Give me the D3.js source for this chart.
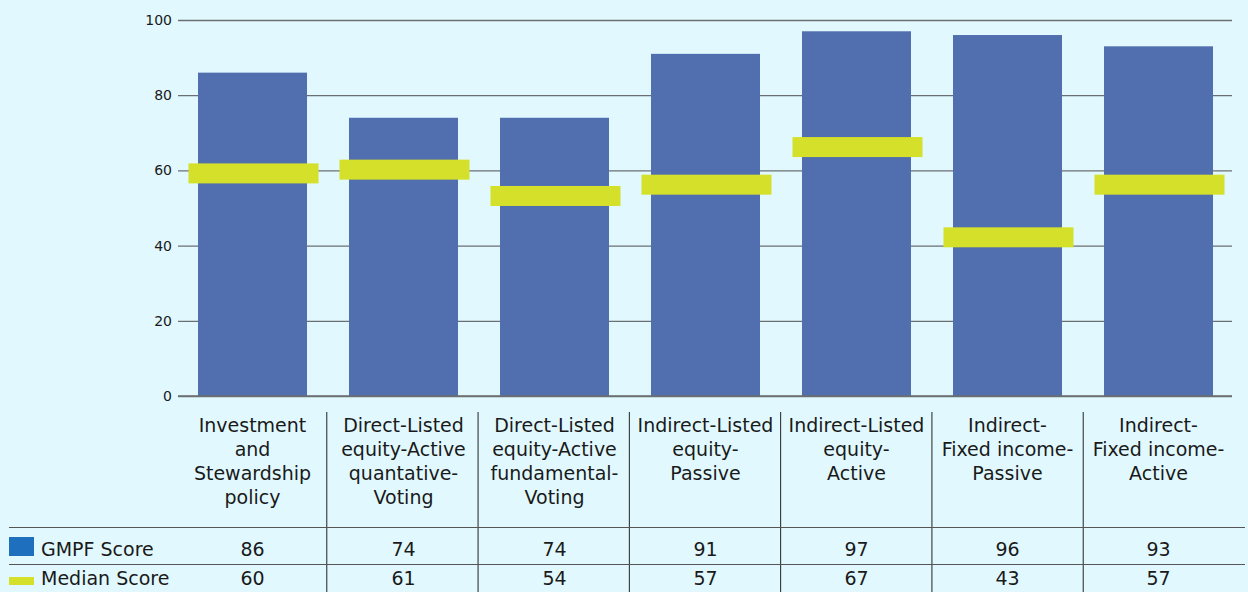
<!DOCTYPE html>
<html>
<head>
<meta charset="utf-8">
<script src="https://cdn.jsdelivr.net/npm/d3@7"></script>
<style>
  body { margin: 0; background: #e1f9fe; }
  svg text { font-family: "DejaVu Sans", "Noto Sans", sans-serif; fill: #1a1a1a; }
</style>
</head>
<body>
<div id="chart"></div>
<script>
var categories = [
  ["Investment", "and", "Stewardship", "policy"],
  ["Direct-Listed", "equity-Active", "quantative-", "Voting"],
  ["Direct-Listed", "equity-Active", "fundamental-", "Voting"],
  ["Indirect-Listed", "equity-", "Passive"],
  ["Indirect-Listed", "equity-", "Active"],
  ["Indirect-", "Fixed income-", "Passive"],
  ["Indirect-", "Fixed income-", "Active"]
];
var gmpfScore = [86, 74, 74, 91, 97, 96, 93];
var medianScore = [60, 61, 54, 57, 67, 43, 57];
var yTicks = [0, 20, 40, 60, 80, 100];
var seriesNames = ["GMPF Score", "Median Score"];

(function () {
  var width = 1248,
    height = 592;

  var barColor = "#516eae",
    medianColor = "#d4e029",
    legendBlue = "#1f6fbf",
    gridColor = "#6b6f72";

  var svg = d3.select("#chart")
    .append("svg")
    .attr("width", width)
    .attr("height", height)

  var x = d3.scaleBand()
    .domain(d3.range(categories.length))
    .range([177, 1234])
    .paddingInner(0.278)
    .paddingOuter(0.139)

  var band = d3.scaleBand()
    .domain(d3.range(categories.length))
    .range([175, 1234])

  var y = d3.scaleLinear().domain([0, 100]).range([396, 20])

  // grid + y labels
  var yAxis = d3.axisLeft(y)
    .tickValues(yTicks)
    .tickSize(-(1232 - 178))
    .tickPadding(6)

  var gy = svg.append("g")
    .attr("transform", "translate(178,0)")
    .call(yAxis)
  gy.select(".domain").remove()
  gy.selectAll(".tick line")
    .attr("stroke", gridColor)
    .attr("stroke-width", 1.3)
  gy.selectAll(".tick text")
    .attr("font-size", "14px")
    .attr("fill", "#222")

  // bars
  svg.selectAll(".bar")
    .data(gmpfScore)
    .enter().append("rect")
    .attr("class", "bar")
    .attr("x", function (d, i) { return x(i) })
    .attr("width", x.bandwidth())
    .attr("y", function (d) { return y(d) })
    .attr("height", function (d) { return y(0) - y(d) })
    .attr("fill", barColor)

  // median markers
  var markW = 130, markH = 20;
  svg.selectAll(".median")
    .data(medianScore)
    .enter().append("rect")
    .attr("class", "median")
    .attr("x", function (d, i) { return x(i) + x.bandwidth() / 2 - markW / 2 + 1 })
    .attr("width", markW)
    .attr("y", function (d) { return y(d) - markH / 2 + 3 })
    .attr("height", markH)
    .attr("fill", medianColor)

  // baseline
  svg.append("line")
    .attr("x1", 178).attr("x2", 1232)
    .attr("y1", y(0)).attr("y2", y(0))
    .attr("stroke", gridColor)
    .attr("stroke-width", 1.3)

  // data table
  var table = svg.append("g").attr("class", "table")

  table.selectAll(".vsep")
    .data(d3.range(1, categories.length))
    .enter().append("line")
    .attr("x1", function (i) { return band(i) + 0.5 })
    .attr("x2", function (i) { return band(i) + 0.5 })
    .attr("y1", 412).attr("y2", height)
    .attr("stroke", "#222")
    .attr("stroke-width", 1)

  table.selectAll(".hsep")
    .data([527, 564])
    .enter().append("line")
    .attr("x1", 9).attr("x2", 1245)
    .attr("y1", function (d) { return d + 0.5 })
    .attr("y2", function (d) { return d + 0.5 })
    .attr("stroke", "#555")
    .attr("stroke-width", 1)

  // category labels
  var cat = table.selectAll(".cat")
    .data(categories)
    .enter().append("text")
    .attr("class", "cat")
    .attr("text-anchor", "middle")
    .attr("font-size", "19px")
    .attr("x", function (d, i) { return x(i) + x.bandwidth() / 2 })
    .attr("y", 432)
  cat.selectAll("tspan")
    .data(function (d) { return d })
    .enter().append("tspan")
    .attr("x", function () { return d3.select(this.parentNode).attr("x") })
    .attr("dy", function (d, j) { return j === 0 ? 0 : 24 })
    .text(function (d) { return d })

  // value rows
  var rows = [gmpfScore, medianScore];
  var rowY = [556, 585];
  rows.forEach(function (vals, r) {
    table.selectAll(".val" + r)
      .data(vals)
      .enter().append("text")
      .attr("text-anchor", "middle")
      .attr("font-size", "19px")
      .attr("x", function (d, i) { return x(i) + x.bandwidth() / 2 })
      .attr("y", rowY[r])
      .text(function (d) { return d })
  })

  // legend keys
  table.append("rect")
    .attr("x", 9).attr("y", 537)
    .attr("width", 25).attr("height", 19)
    .attr("fill", legendBlue)
  table.append("rect")
    .attr("x", 9).attr("y", 577)
    .attr("width", 25).attr("height", 8)
    .attr("fill", medianColor)

  table.selectAll(".rowname")
    .data(seriesNames)
    .enter().append("text")
    .attr("class", "rowname")
    .attr("font-size", "19px")
    .attr("x", 41)
    .attr("y", function (d, i) { return rowY[i] })
    .text(function (d) { return d })
})();
</script>
</body>
</html>
